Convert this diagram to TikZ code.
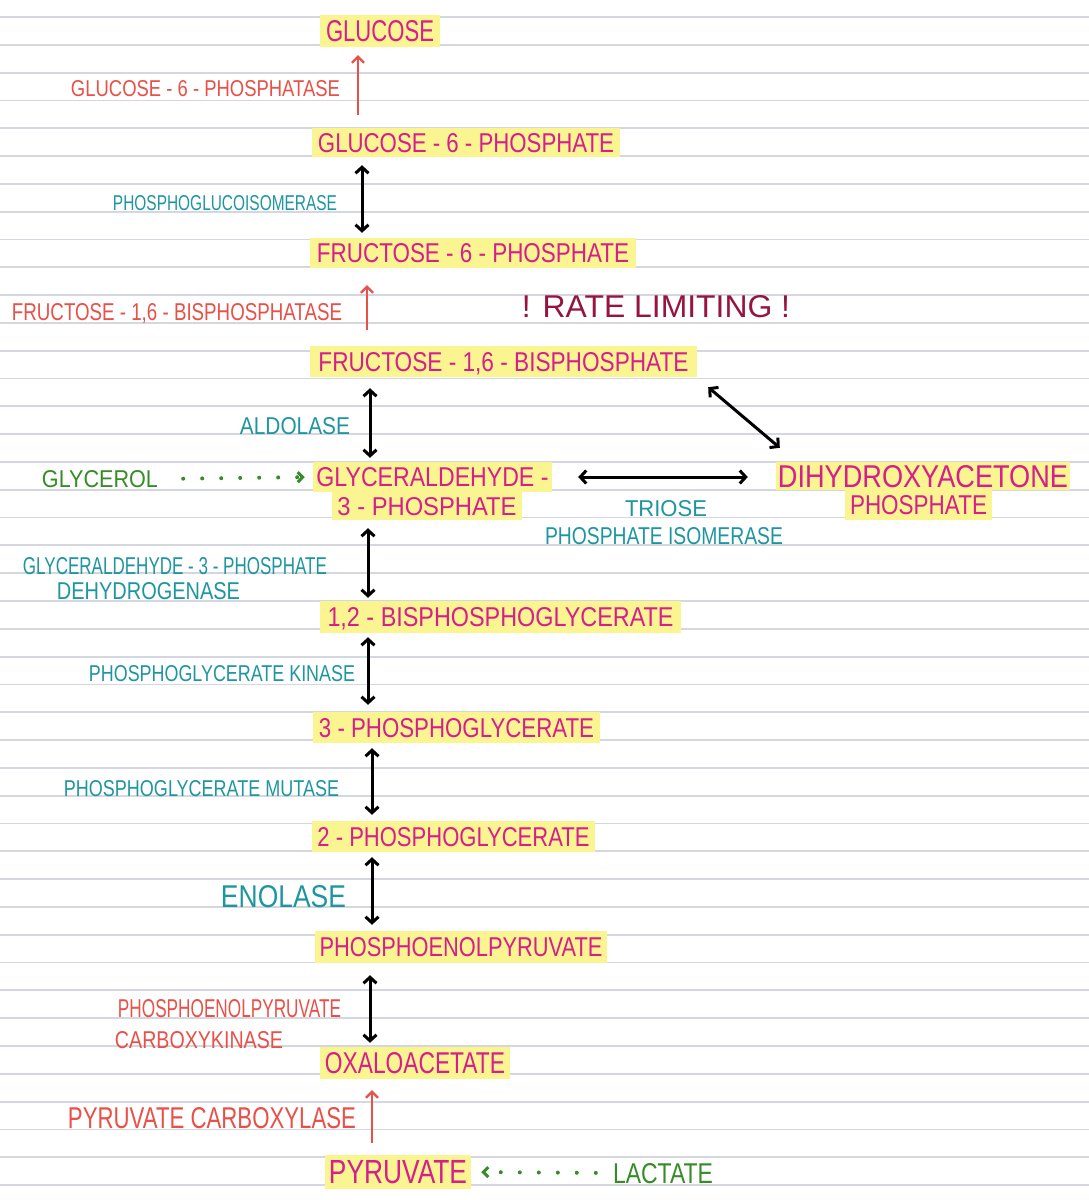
\documentclass[tikz,border=0pt]{standalone}
\usepackage{fontspec}
\setmainfont{Liberation Sans}
\usepackage{graphicx}
\usetikzlibrary{arrows.meta,calc}
\definecolor{mag}{RGB}{214,30,140}
\definecolor{hl}{RGB}{250,245,145}
\definecolor{enzred}{RGB}{232,80,72}
\definecolor{tealc}{RGB}{30,150,160}
\definecolor{grn}{RGB}{55,140,40}
\definecolor{maroonc}{RGB}{150,20,65}
\definecolor{rulegray}{RGB}{212,215,222}
\newcommand\hw[3]{\resizebox{#1pt}{#2pt}{\raisebox{0pt}[\height][0pt]{#3}}}
\tikzset{
  met/.style={fill=hl, text=mag, inner sep=0pt, anchor=center},
  enz/.style={inner sep=0pt, anchor=center},
  redtxt/.style={enz, text=enzred},
  tealtxt/.style={enz, text=tealc},
  grntxt/.style={enz, text=grn},
  blk/.style={draw=black, line width=3pt, {Straight Barb[length=6pt,width=13pt,line width=3pt]}-{Straight Barb[length=6pt,width=13pt,line width=3pt]}},
  redarr/.style={draw=enzred, line width=2.2pt, -{Straight Barb[length=6pt,width=12pt,line width=2.2pt]}},
  dotarr/.style={draw=grn, line width=4pt, line cap=round, dash pattern=on 0pt off 19pt, -{Straight Barb[length=5pt,width=10pt,line width=3pt]}},
  rulestyle/.style={draw=rulegray, line width=1.8pt}
}
\begin{document}
\begin{tikzpicture}[x=1pt,y=-1pt]
\fill[white] (0,0) rectangle (1089,1200);
\useasboundingbox (0,0) rectangle (1089,1200);
\foreach \k in {0,...,42} {
  \draw[rulestyle] (0,{17+27.81*\k}) -- (1089,{17+27.81*\k});
}
% metabolites
\node[met, minimum width=120, minimum height=32] (glc) at (380,31) {\hw{108}{21}{GLUCOSE}};
\node[met, minimum width=308, minimum height=29] (g6p) at (466,142.5) {\hw{296}{19}{GLUCOSE - 6 - PHOSPHATE}};
\node[met, minimum width=326, minimum height=30] (f6p) at (473,253) {\hw{312}{19}{FRUCTOSE - 6 - PHOSPHATE}};
\node[met, minimum width=387, minimum height=31] (f16bp) at (503.5,361.5) {\hw{370}{19}{FRUCTOSE - 1,6 - BISPHOSPHATE}};
\node[met, minimum width=239, minimum height=30] (gap1) at (432.5,477) {\hw{232}{19}{GLYCERALDEHYDE -}};
\node[met, minimum width=190, minimum height=28] (gap2) at (427,506) {\hw{179}{18}{3 - PHOSPHATE}};
\node[met, minimum width=294, minimum height=28] (dhap1) at (923,476) {\hw{290}{22}{DIHYDROXYACETONE}};
\node[met, minimum width=147, minimum height=30] (dhap2) at (918.5,505) {\hw{137}{19}{PHOSPHATE}};
\node[met, minimum width=361, minimum height=32] (bpg) at (500.5,617) {\hw{346}{19}{1,2 - BISPHOSPHOGLYCERATE}};
\node[met, minimum width=287, minimum height=31] (pg3) at (456.5,727.5) {\hw{275}{19}{3 - PHOSPHOGLYCERATE}};
\node[met, minimum width=283, minimum height=31] (pg2) at (453.5,836.5) {\hw{272}{19}{2 - PHOSPHOGLYCERATE}};
\node[met, minimum width=292, minimum height=32] (pep) at (461,947) {\hw{283}{19}{PHOSPHOENOLPYRUVATE}};
\node[met, minimum width=190, minimum height=32] (oaa) at (415,1063) {\hw{180}{21}{OXALOACETATE}};
\node[met, minimum width=146, minimum height=34] (pyr) at (398,1172) {\hw{138}{23}{PYRUVATE}};
% enzymes and side labels
\node[redtxt] (g6pase) at (205.5,88) {\hw{269}{16}{GLUCOSE - 6 - PHOSPHATASE}};
\node[tealtxt] (pgi) at (225,203) {\hw{224}{15}{PHOSPHOGLUCOISOMERASE}};
\node[redtxt] (fbpase) at (177,312) {\hw{330}{17}{FRUCTOSE - 1,6 - BISPHOSPHATASE}};
\node[enz, text=maroonc] (rate) at (656,306) {\hw{268}{22}{! RATE LIMITING !}};
\node[tealtxt] (ald) at (295,426) {\hw{110}{17}{ALDOLASE}};
\node[grntxt] (glycerol) at (100,479) {\hw{116}{17}{GLYCEROL}};
\node[tealtxt] (tpi1) at (666,508) {\hw{82}{16}{TRIOSE}};
\node[tealtxt] (tpi2) at (664,536) {\hw{238}{17}{PHOSPHATE ISOMERASE}};
\node[tealtxt] (gapdh1) at (175,566) {\hw{304}{17}{GLYCERALDEHYDE - 3 - PHOSPHATE}};
\node[tealtxt] (gapdh2) at (148.5,591) {\hw{183}{17}{DEHYDROGENASE}};
\node[tealtxt] (pgk) at (222,673) {\hw{266}{16}{PHOSPHOGLYCERATE KINASE}};
\node[tealtxt] (pgm) at (201.5,788) {\hw{275}{16}{PHOSPHOGLYCERATE MUTASE}};
\node[tealtxt] (eno) at (283.5,896) {\hw{125}{22}{ENOLASE}};
\node[redtxt] (pepck1) at (229.5,1008) {\hw{223}{18}{PHOSPHOENOLPYRUVATE}};
\node[redtxt] (pepck2) at (199,1040) {\hw{168}{17}{CARBOXYKINASE}};
\node[redtxt] (pc) at (212,1118) {\hw{288}{21}{PYRUVATE CARBOXYLASE}};
\node[grntxt] (lactate) at (663,1173) {\hw{100}{20}{LACTATE}};
% arrow x positions
\coordinate (ca) at (358,0);
\coordinate (c1) at (362,0);
\coordinate (cb) at (367,0);
\coordinate (c2) at (370,0);
\coordinate (c3) at (368,0);
\coordinate (c4) at (368,0);
\coordinate (c5) at (372,0);
\coordinate (c6) at (372,0);
\coordinate (c7) at (370,0);
\coordinate (cc) at (372,0);
% connectors
\draw[redarr, shorten <=13pt, shorten >=8pt] (g6p.north -| ca) -- (glc.south -| ca);
\draw[blk, shorten <=8pt, shorten >=5pt] (g6p.south -| c1) -- (f6p.north -| c1);
\draw[redarr, shorten <=16pt, shorten >=17pt] (f16bp.north -| cb) -- (f6p.south -| cb);
\draw[blk, shorten <=11pt, shorten >=4pt] (f16bp.south -| c2) -- (gap1.north -| c2);
\draw[blk, shorten <=8pt, shorten >=3pt] (gap2.south -| c3) -- (bpg.north -| c3);
\draw[blk, shorten <=4pt, shorten >=7pt] (bpg.south -| c4) -- (pg3.north -| c4);
\draw[blk, shorten <=5pt, shorten >=6pt] (pg3.south -| c5) -- (pg2.north -| c5);
\draw[blk, shorten <=5pt, shorten >=6pt] (pg2.south -| c6) -- (pep.north -| c6);
\draw[blk, shorten <=12pt, shorten >=4pt] (pep.south -| c7) -- (oaa.north -| c7);
\draw[redarr, shorten <=12pt, shorten >=11pt] (pyr.north -| cc) -- (oaa.south -| cc);
\draw[blk] ($(f16bp.south east)+(11,10)$) -- ($(dhap1.north west)+(4,-14)$);
\draw[blk, shorten <=26pt, shorten >=28pt] (gap1.east) -- (gap1.east -| dhap1.west);
\draw[dotarr, shorten <=25pt, shorten >=8pt] (glycerol.east) -- (gap1.west);
\draw[dotarr, shorten <=17pt, shorten >=10pt] (lactate.west) -- (pyr.east);
\end{tikzpicture}
\end{document}
